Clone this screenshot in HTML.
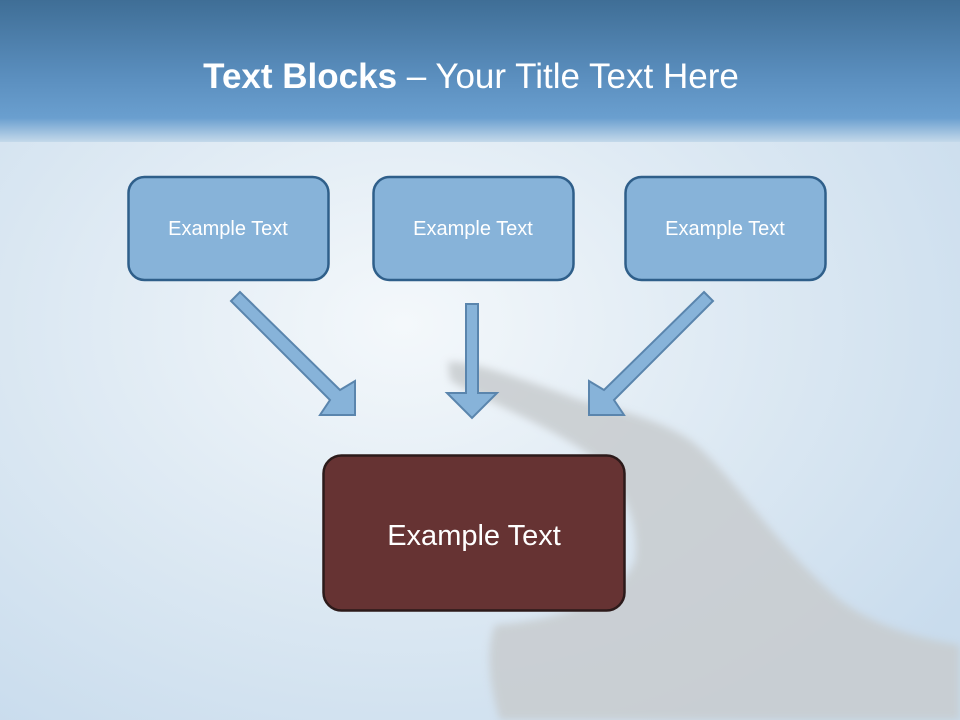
<!DOCTYPE html>
<html><head><meta charset="utf-8"><style>
html,body{margin:0;padding:0;width:960px;height:720px;overflow:hidden}
body{font-family:"Liberation Sans",sans-serif}
</style></head><body>
<svg width="960" height="720" viewBox="0 0 960 720" xmlns="http://www.w3.org/2000/svg">
<defs>
<linearGradient id="hdr" x1="0" y1="0" x2="0" y2="1">
<stop offset="0" stop-color="#3f6e96"/><stop offset="0.55" stop-color="#5b8fbf"/><stop offset="0.83" stop-color="#6a9fcf"/><stop offset="1" stop-color="#c4d9ea"/>
</linearGradient>
<radialGradient id="sky" cx="0.42" cy="0.45" r="0.7">
<stop offset="0" stop-color="#f4f8fb"/><stop offset="0.45" stop-color="#e0ebf4"/><stop offset="1" stop-color="#c9dced"/>
</radialGradient>
<filter id="bl"><feGaussianBlur stdDeviation="4"/></filter>
</defs>
<rect width="960" height="720" fill="url(#sky)"/>
<path d="M448,362 C470,360 520,378 580,400 C620,410 660,420 690,440 C730,470 770,540 840,600 C880,630 930,640 960,645 L960,720 L500,720 C490,690 485,650 495,625 C560,620 620,600 635,560 C640,520 620,480 590,455 C540,420 470,395 450,380 Z" fill="#c8cccf" opacity="0.85" filter="url(#bl)"/>
<rect width="960" height="142" fill="url(#hdr)"/>
<text x="471" y="88" text-anchor="middle" font-size="35" fill="#fff"><tspan font-weight="bold">Text Blocks</tspan> – Your Title Text Here</text>
<g fill="#87b3d9" stroke="#2f5f8a" stroke-width="2.5">
<rect x="128.5" y="177" width="200" height="103" rx="16"/>
<rect x="373.5" y="177" width="200" height="103" rx="16"/>
<rect x="625.5" y="177" width="200" height="103" rx="16"/>
</g>
<g fill="#fff" font-size="20" text-anchor="middle">
<text x="228" y="235">Example Text</text>
<text x="473" y="235">Example Text</text>
<text x="725" y="235">Example Text</text>
</g>
<g fill="#87b3d9" stroke="#5a85ad" stroke-width="2">
<polygon points="240,292 231,301 330,400 320,415 355,415 355,381 340,390"/>
<polygon points="466,304 478,304 478,393 497,393 472,418 447,393 466,393"/>
<polygon points="704,292 713,301 614,400 624,415 589,415 589,381 604,390"/>
</g>
<rect x="323.5" y="455.5" width="301" height="155" rx="18" fill="#663333" stroke="#2c1a1a" stroke-width="2.5"/>
<text x="474" y="545" text-anchor="middle" font-size="29" fill="#fff">Example Text</text>
</svg>
</body></html>
